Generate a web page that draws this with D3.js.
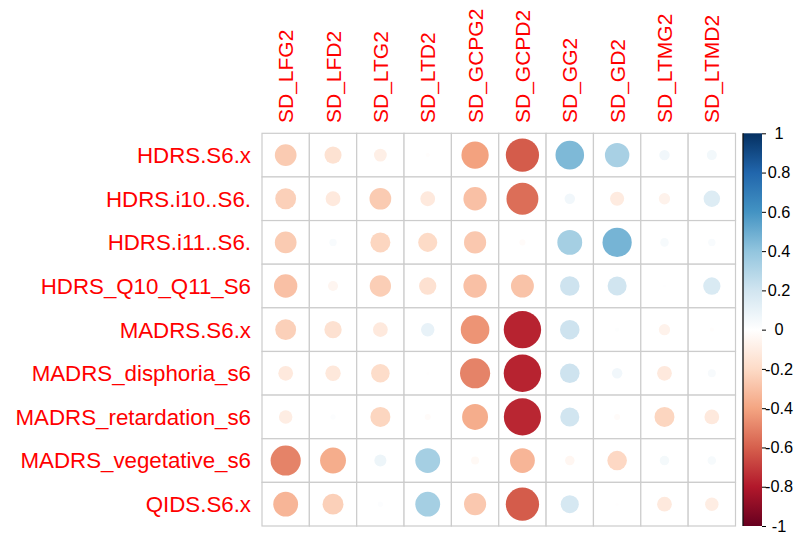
<!DOCTYPE html>
<html><head><meta charset="utf-8">
<script src="https://cdn.jsdelivr.net/npm/d3@7"></script>
<style>html,body{margin:0;padding:0;background:#fff;}svg{display:block;}</style>
</head><body>
<svg id="chart" width="797" height="533"></svg>
<script>
const columns = ["SD_LFG2","SD_LFD2","SD_LTG2","SD_LTD2","SD_GCPG2","SD_GCPD2","SD_GG2","SD_GD2","SD_LTMG2","SD_LTMD2"];
const rowNames = ["HDRS.S6.x","HDRS.i10..S6.","HDRS.i11..S6.","HDRS_Q10_Q11_S6","MADRS.S6.x","MADRS_disphoria_s6","MADRS_retardation_s6","MADRS_vegetative_s6","QIDS.S6.x"];
const hdrsS6x        = [-0.26,-0.16,-0.09,-0.01,-0.41,-0.61, 0.45, 0.33, 0.06, 0.055];
const hdrsI10        = [-0.24,-0.12,-0.26,-0.12,-0.30,-0.56, 0.06,-0.11,-0.07, 0.15];
const hdrsI11        = [-0.26, 0.03,-0.22,-0.20,-0.27,-0.02, 0.34, 0.47, 0.04, 0.03];
const hdrsQ10Q11     = [-0.30,-0.055,-0.25,-0.165,-0.30,-0.29, 0.21, 0.20, 0.005, 0.165];
const madrsS6x       = [-0.24,-0.165,-0.12, 0.10,-0.45,-0.77, 0.21, 0.01,-0.07,-0.01];
const madrsDisphoria = [-0.12,-0.13,-0.19,-0.005,-0.50,-0.77, 0.21, 0.06,-0.12, 0.035];
const madrsRetard    = [-0.10, 0.015,-0.22,-0.02,-0.37,-0.76, 0.20,-0.02,-0.22,-0.12];
const madrsVeget     = [-0.50,-0.37, 0.08, 0.34,-0.035,-0.34,-0.05,-0.21, 0.05, 0.04];
const qidsS6x        = [-0.34,-0.24, 0.015, 0.34,-0.27,-0.61, 0.18,-0.005,-0.12,-0.10];
const matrix = [hdrsS6x,hdrsI10,hdrsI11,hdrsQ10Q11,madrsS6x,madrsDisphoria,madrsRetard,madrsVeget,qidsS6x];
const legendTicks = [1,0.8,0.6,0.4,0.2,0,-0.2,-0.4,-0.6,-0.8,-1];
const legendLabels = ["1","0.8","0.6","0.4","0.2","0","-0.2","-0.4","-0.6","-0.8","-1"];
const paletteStops = [-1,-0.8,-0.6,-0.4,-0.2,0,0.2,0.4,0.6,0.8,1];
const paletteColors = ["#67001F","#B2182B","#D6604D","#F4A582","#FDDBC7","#FFFFFF","#D1E5F0","#92C5DE","#4393C3","#2166AC","#053061"];

const svg = d3.select("#chart");
const gx0 = 262, gx1 = 735.5, gy0 = 133.3, gy1 = 526;
const x = d3.scaleBand().domain(columns).range([gx0, gx1]).padding(0);
const y = d3.scaleBand().domain(rowNames).range([gy0, gy1]).padding(0);
const color = d3.scaleLinear().domain(paletteStops).range(paletteColors).interpolate(d3.interpolateRgb);
const size = d3.scaleSqrt().domain([0,1]).range([0, 0.45 * x.bandwidth()]);

const cells = [];
matrix.forEach((row, i) => row.forEach((v, j) => cells.push({r: rowNames[i], c: columns[j], v})));

// grid
svg.append("g").selectAll("rect").data(cells).join("rect")
  .attr("x", d => x(d.c)).attr("y", d => y(d.r))
  .attr("width", x.bandwidth()).attr("height", y.bandwidth())
  .attr("fill", "#fff").attr("stroke", "#cccccc").attr("stroke-width", 1.2);

// circles
svg.append("g").selectAll("circle").data(cells).join("circle")
  .attr("cx", d => x(d.c) + x.bandwidth()/2)
  .attr("cy", d => y(d.r) + y.bandwidth()/2)
  .attr("r", d => size(Math.abs(d.v)))
  .attr("fill", d => color(d.v));

// row labels
svg.append("g").selectAll("text").data(rowNames).join("text")
  .attr("x", 251).attr("y", d => y(d) + y.bandwidth()/2 + 7.9)
  .attr("text-anchor", "end")
  .attr("font-family", "Liberation Sans, Arial, sans-serif")
  .attr("font-size", 22.3).attr("fill", "#FF0000")
  .text(d => d);

// column labels
svg.append("g").selectAll("text").data(columns).join("text")
  .attr("transform", d => `translate(${x(d) + x.bandwidth()/2 + 7.5},123) rotate(-90)`)
  .attr("text-anchor", "start")
  .attr("font-family", "Liberation Sans, Arial, sans-serif")
  .attr("font-size", 21).attr("fill", "#FF0000")
  .text(d => d);

// color legend
const lx0 = 743, lx1 = 762;
const ly = d3.scaleLinear().domain([-1, 1]).range([gy1, gy0]);
const defs = svg.append("defs");
const grad = defs.append("linearGradient").attr("id", "cbar")
  .attr("x1", 0).attr("y1", 1).attr("x2", 0).attr("y2", 0);
grad.selectAll("stop").data(paletteStops).join("stop")
  .attr("offset", d => (d + 1) / 2)
  .attr("stop-color", d => color(d));
svg.append("rect").attr("x", lx0).attr("y", gy0).attr("width", lx1 - lx0).attr("height", gy1 - gy0)
  .attr("fill", "url(#cbar)");
svg.append("line").attr("x1", lx0).attr("x2", lx0).attr("y1", gy0).attr("y2", gy1)
  .attr("stroke", "#111").attr("stroke-width", 1.3);
const axis = d3.axisRight(ly).tickValues(legendTicks).tickSize(4)
  .tickFormat((d, i) => legendLabels[i]);
const ag = svg.append("g").attr("transform", `translate(${lx1},0)`).call(axis);
ag.select(".domain").remove();
ag.selectAll("text").attr("font-family", "Liberation Sans, Arial, sans-serif")
  .attr("font-size", 16.3).attr("fill", "#000").attr("x", 17).attr("text-anchor", "middle");
ag.selectAll("line").attr("stroke", "#000");
</script>
</body></html>
